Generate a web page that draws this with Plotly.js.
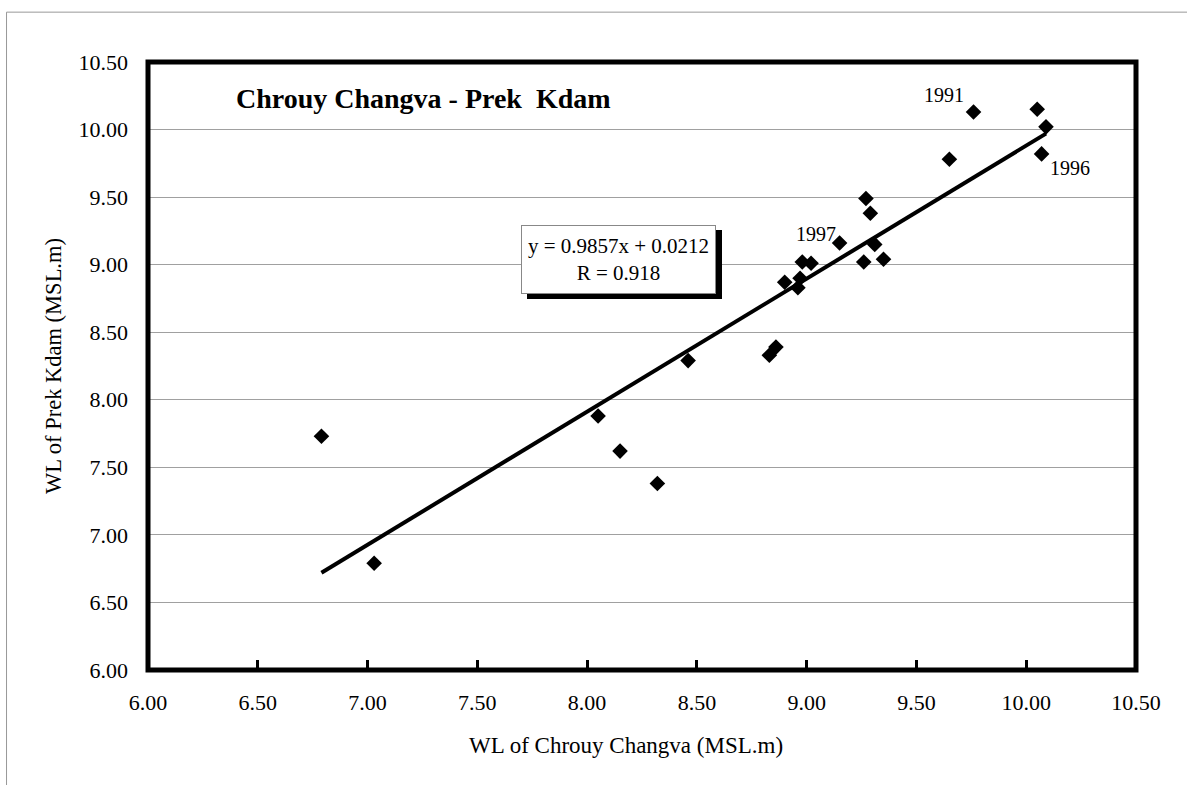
<!DOCTYPE html>
<html>
<head>
<meta charset="utf-8">
<script src="https://cdn.plot.ly/plotly-3.0.1.min.js"></script>
<style>
  html, body { margin: 0; padding: 0; background: #fff; }
  #chart { width: 1187px; height: 785px; }
</style>
</head>
<body>
<div id="chart"></div>
<script>
// WL of Chrouy Changva (x) vs WL of Prek Kdam (y), MSL.m
const xVals = [9.76, 10.05, 10.09, 10.07, 9.65, 9.27, 9.29, 9.15, 9.31, 9.26, 9.35, 8.98, 9.02,
               8.90, 8.97, 8.96, 8.46, 8.86, 8.83, 8.05, 8.15, 8.32, 6.79, 7.03];
const yVals = [10.13, 10.15, 10.02, 9.82, 9.78, 9.49, 9.38, 9.16, 9.15, 9.02, 9.04, 9.02, 9.01,
               8.87, 8.90, 8.83, 8.29, 8.39, 8.33, 7.88, 7.62, 7.38, 7.73, 6.79];
const pointLabels = ['1991', '', '', '1996', '', '', '', '1997', '', '', '', '', '',
                     '', '', '', '', '', '', '', '', '', '', ''];
// Trend line endpoints (y = 0.9857x + 0.0212)
const trendX = [6.79, 10.09];
const trendY = [6.72, 9.97];
const equationText = 'y = 0.9857x + 0.0212<br>R = 0.918';
const chartTitle = 'Chrouy Changva - Prek\u00a0 Kdam';
const xTitle = 'WL of Chrouy Changva (MSL.m)';
const yTitle = 'WL of Prek Kdam (MSL.m)';
const tickVals = [6.0, 6.5, 7.0, 7.5, 8.0, 8.5, 9.0, 9.5, 10.0, 10.5];
const tickText = ['6.00', '6.50', '7.00', '7.50', '8.00', '8.50', '9.00', '9.50', '10.00', '10.50'];

const labelOffsets = { '1991': [-30, 17], '1996': [28, -14], '1997': [-24, 9] };

const serif = "'Liberation Serif', 'Times New Roman', serif";

const traces = [
  {
    x: trendX, y: trendY, type: 'scatter', mode: 'lines',
    line: { color: '#000', width: 4 }, hoverinfo: 'skip', showlegend: false
  },
  {
    x: xVals, y: yVals, type: 'scatter', mode: 'markers',
    marker: { symbol: 'diamond', size: 12, color: '#000' }, showlegend: false
  }
];

const annotations = [];
pointLabels.forEach((lab, i) => {
  if (!lab) return;
  const off = labelOffsets[lab] || [0, 0];
  annotations.push({
    x: xVals[i], y: yVals[i], xref: 'x', yref: 'y', text: lab, showarrow: false,
    xanchor: 'center', yanchor: 'middle',
    xshift: off[0], yshift: off[1], font: { family: serif, size: 20, color: '#000' }
  });
});
// equation box: blank black shadow first, then the white box with the text
const boxX = 0.476, boxY = 0.675;
annotations.push({
  x: boxX, y: boxY, xref: 'paper', yref: 'paper', text: '&nbsp;', showarrow: false,
  xanchor: 'center', yanchor: 'middle',
  xshift: 6, yshift: -5, width: 193, height: 67, borderpad: 0, borderwidth: 1,
  bgcolor: '#000', bordercolor: '#000', font: { family: serif, size: 21, color: '#000' }
});
annotations.push({
  x: boxX, y: boxY, xref: 'paper', yref: 'paper', text: equationText, showarrow: false,
  xanchor: 'center', yanchor: 'middle',
  width: 193, height: 67, borderpad: 0, borderwidth: 1,
  bgcolor: '#fff', bordercolor: '#888', font: { family: serif, size: 21, color: '#000' }
});
// x-axis title (sits a little left of the plot centre, as in the original)
annotations.push({
  x: 0.484, y: -0.124, xref: 'paper', yref: 'paper', text: xTitle, showarrow: false,
  xanchor: 'center', yanchor: 'middle', font: { family: serif, size: 23, color: '#000' }
});

const layout = {
  width: 1187, height: 785,
  margin: { l: 148, r: 51, t: 62, b: 115, pad: 0 },
  paper_bgcolor: '#fff', plot_bgcolor: '#fff',
  font: { family: serif, color: '#000' },
  title: {
    text: '<b>' + chartTitle + '</b>', xref: 'paper', yref: 'paper',
    x: 0.089, xanchor: 'left', y: 0.94, yanchor: 'middle',
    font: { family: serif, size: 28, color: '#000' }
  },
  xaxis: {
    range: [6, 10.5], tickvals: tickVals, ticktext: tickText,
    showgrid: false, zeroline: false, showline: false,
    ticks: 'inside', ticklen: 10, tickwidth: 3, tickcolor: '#000',
    tickfont: { family: serif, size: 22, color: '#000' },
    ticklabelstandoff: 17
  },
  yaxis: {
    range: [6, 10.5], tickvals: tickVals, ticktext: tickText,
    showgrid: true, gridcolor: '#a0a0a0', gridwidth: 1, zeroline: false,
    ticks: '', showline: false,
    tickfont: { family: serif, size: 22, color: '#000' },
    ticklabelstandoff: 19,
    title: { text: yTitle, font: { family: serif, size: 22.5, color: '#000' }, standoff: 10 }
  },
  shapes: [
    { type: 'rect', xref: 'paper', yref: 'paper', x0: 0, x1: 1, y0: 0, y1: 1,
      line: { color: '#000', width: 5 }, fillcolor: 'rgba(0,0,0,0)', layer: 'above' },
    { type: 'line', xref: 'paper', yref: 'paper', x0: -0.1432, x1: -0.1432, y0: 1.082, y1: -0.2,
      line: { color: '#999', width: 1 } },
    { type: 'line', xref: 'paper', yref: 'paper', x0: -0.1432, x1: 1.06, y0: 1.082, y1: 1.082,
      line: { color: '#999', width: 1 } }
  ],
  annotations: annotations,
  showlegend: false
};

Plotly.newPlot('chart', traces, layout, { displayModeBar: false, staticPlot: true });
</script>
</body>
</html>
